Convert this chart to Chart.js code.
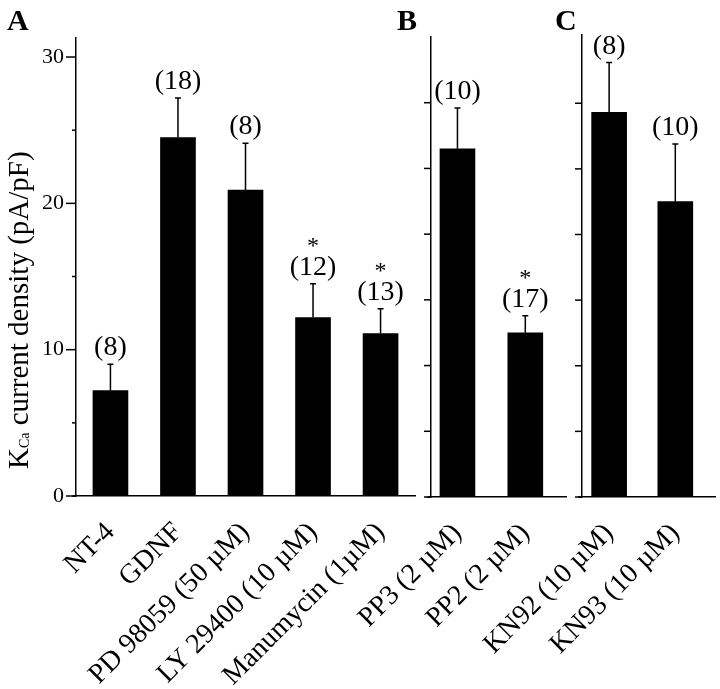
<!DOCTYPE html>
<html>
<head>
<meta charset="utf-8">
<script src="https://cdn.jsdelivr.net/npm/chart.js@4.4.0/dist/chart.umd.min.js"></script>
<style>
  body { margin: 0; background: #fff; }
  #wrap { position: relative; width: 720px; height: 689px; }
  #wrap canvas { position: absolute; left: 0; top: 0; }
</style>
</head>
<body>
<div id="wrap">
  <canvas id="cA" width="720" height="689"></canvas>
  <canvas id="cB" width="720" height="689"></canvas>
  <canvas id="cC" width="720" height="689"></canvas>
</div>
<script>
// panel A
var labelsA = ['NT-4', 'GDNF', 'PD 98059 (50 µM)', 'LY 29400 (10 µM)', 'Manumycin (1µM)'];
var meanA = [7.2, 24.5, 20.9, 12.2, 11.1];
var semA = [1.8, 2.7, 3.2, 2.3, 1.7];
var nA = [8, 18, 8, 12, 13];
var starA = [false, false, false, true, true];
var ticksA = [0, 10, 20, 30];

// panel B (own axis, unlabelled ticks every 5)
var labelsB = ['PP3 (2 µM)', 'PP2 (2 µM)'];
var meanB = [26.5, 12.5];
var semB = [3.1, 1.3];
var nB = [10, 17];
var starB = [false, true];

// panel C
var labelsC = ['KN92 (10 µM)', 'KN93 (10 µM)'];
var meanC = [29.3, 22.5];
var semC = [3.8, 4.4];
var nC = [8, 10];
var starC = [false, false];

var F = "'Liberation Serif', 'Times New Roman', serif";
Chart.defaults.font.family = F;
Chart.defaults.color = '#000';

// error bars, (n) labels, stars, tick marks, panel letter, y title
var marks = {
  id: 'marks',
  afterDatasetsDraw: function (chart, args, o) {
    var ctx = chart.ctx, y = chart.scales.y;
    var meta = chart.getDatasetMeta(0);
    ctx.save();
    ctx.strokeStyle = '#000';
    ctx.fillStyle = '#000';
    ctx.lineWidth = 1.5;
    meta.data.forEach(function (bar, i) {
      var top = y.getPixelForValue(o.mean[i] + o.sem[i]);
      ctx.beginPath();
      ctx.moveTo(bar.x, bar.y);
      ctx.lineTo(bar.x, top);
      ctx.moveTo(bar.x - 3, top);
      ctx.lineTo(bar.x + 3, top);
      ctx.stroke();
      ctx.textAlign = 'center';
      ctx.textBaseline = 'alphabetic';
      ctx.font = '28px ' + F;
      ctx.fillText('(' + o.n[i] + ')', bar.x, top - 9);
      if (o.star[i]) {
        ctx.font = '24px ' + F;
        ctx.fillText('*', bar.x, top - 31);
      }
    });
    ctx.restore();
  },
  afterDraw: function (chart, args, o) {
    var ctx = chart.ctx, y = chart.scales.y, area = chart.chartArea, left = area.left;
    ctx.save();
    ctx.strokeStyle = '#000';
    ctx.fillStyle = '#000';
    ctx.lineWidth = 1.5;
    y.ticks.forEach(function (t) {
      var py = y.getPixelForValue(t.value);
      var len = t.value % o.majorEvery === 0 ? o.tick[0] : o.tick[1];
      ctx.beginPath();
      ctx.moveTo(left - len, py);
      ctx.lineTo(left, py);
      ctx.stroke();
    });
    // baseline runs a little past the y axis
    ctx.beginPath();
    ctx.moveTo(left - 4, area.bottom);
    ctx.lineTo(left, area.bottom);
    ctx.stroke();
    ctx.font = 'bold 30px ' + F;
    ctx.textAlign = 'left';
    ctx.textBaseline = 'alphabetic';
    ctx.fillText(o.letter[0], o.letter[1], o.letter[2]);
    if (o.title) {
      ctx.translate(28, 469);
      ctx.rotate(-Math.PI / 2);
      ctx.font = '29px ' + F;
      ctx.fillText('K', 0, 0);
      var x = ctx.measureText('K').width;
      ctx.font = '14px ' + F;
      ctx.fillText('Ca', x, 1);
      x += ctx.measureText('Ca').width;
      ctx.font = '29px ' + F;
      ctx.fillText(' current density (pA/pF)', x, 0);
    }
    ctx.restore();
  }
};

function panel(id, p) {
  return new Chart(document.getElementById(id), {
    type: 'bar',
    data: {
      datasets: [{
        data: p.mean.map(function (v, i) { return { x: i, y: v }; }),
        backgroundColor: '#000',
        borderWidth: 0,
        barThickness: 35
      }]
    },
    options: {
      responsive: false,
      animation: false,
      devicePixelRatio: 1,
      layout: { padding: p.pad },
      plugins: {
        legend: { display: false },
        tooltip: { enabled: false },
        marks: {
          mean: p.mean, sem: p.sem, n: p.n, star: p.star,
          tick: p.tick, majorEvery: p.majorEvery,
          letter: p.letter, title: p.title
        }
      },
      scales: {
        x: {
          type: 'linear',
          offset: false,
          min: p.xr[0],
          max: p.xr[1],
          grid: { display: false, drawTicks: false, offset: false },
          border: { display: true, color: '#000', width: 1.5 },
          afterBuildTicks: function (s) {
            s.ticks = p.labels.map(function (l, i) { return { value: i }; });
          },
          ticks: {
            autoSkip: false,
            minRotation: 45,
            maxRotation: 45,
            padding: 20,
            font: { size: 28 },
            color: '#000',
            callback: function (v) { return p.labels[v]; }
          },
          afterFit: function (s) {
            s.height = p.xh;
            s.paddingLeft = 0;
            s.paddingRight = 0;
          }
        },
        y: {
          min: 0,
          max: p.ymax,
          grid: { display: false, drawTicks: false },
          border: { display: true, color: '#000', width: 1.5 },
          afterBuildTicks: function (s) {
            s.ticks = s.ticks.filter(function (t) { return t.value % 5 === 0 && t.value <= 30; });
          },
          ticks: {
            stepSize: 5,
            includeBounds: false,
            padding: 12,
            font: { size: 22 },
            color: '#000',
            callback: function (v) { return p.tickLabels.indexOf(v) >= 0 ? String(v) : ''; }
          },
          afterFit: function (s) {
            s.width = p.yw;
            s.paddingTop = 0;
            s.paddingBottom = 0;
          }
        }
      }
    },
    plugins: [marks]
  });
}

panel('cA', {
  labels: labelsA, mean: meanA, sem: semA, n: nA, star: starA, tickLabels: ticksA,
  ymax: 31.3, xr: [-0.51, 4.51], pad: { left: 0, right: 305, top: 38, bottom: 0 },
  yw: 76, xh: 193, tick: [10, 4], majorEvery: 10, letter: ['A', 7, 30], title: true
});
panel('cB', {
  labels: labelsB, mean: meanB, sem: semB, n: nB, star: starB, tickLabels: [],
  ymax: 35, xr: [-0.39, 1.6], pad: { left: 401, right: 154, top: 37, bottom: 0 },
  yw: 30, xh: 192, tick: [7, 7], majorEvery: 5, letter: ['B', 397, 30], title: false
});
panel('cC', {
  labels: labelsC, mean: meanC, sem: semC, n: nC, star: starC, tickLabels: [],
  ymax: 35.2, xr: [-0.41, 1.6], pad: { left: 552, right: 5, top: 35, bottom: 0 },
  yw: 30, xh: 192, tick: [7, 7], majorEvery: 5, letter: ['C', 555, 30], title: false
});
</script>
</body>
</html>
